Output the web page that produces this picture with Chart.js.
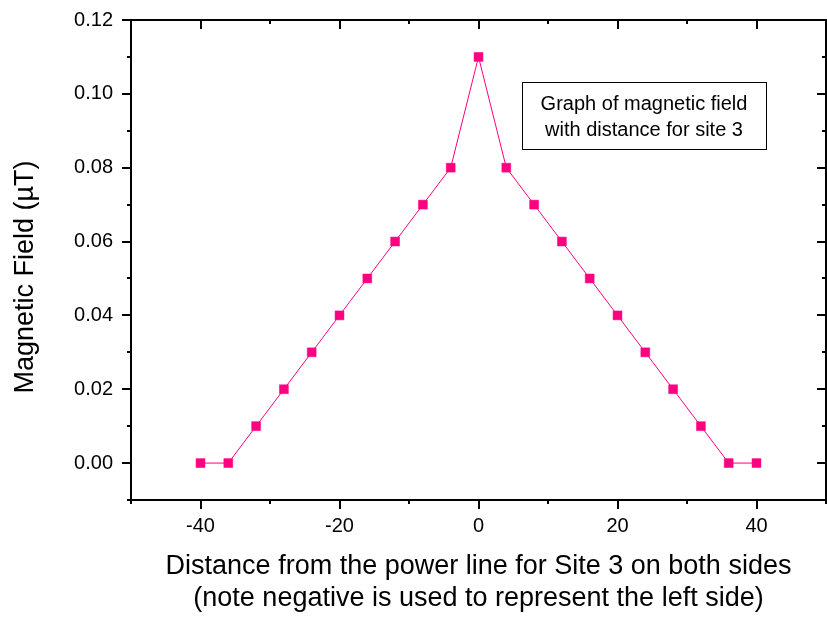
<!DOCTYPE html>
<html>
<head>
<meta charset="utf-8">
<script src="https://cdn.jsdelivr.net/npm/chart.js@4/dist/chart.umd.min.js"></script>
<style>
html,body{margin:0;padding:0;background:#fff;}
canvas{display:block;}
</style>
</head>
<body>
<canvas id="c" width="827" height="617"></canvas>
<script>
const distances = [-40,-36,-32,-28,-24,-20,-16,-12,-8,-4,0,4,8,12,16,20,24,28,32,36,40];
const fieldValues = [0.00,0.00,0.01,0.02,0.03,0.04,0.05,0.06,0.07,0.08,0.11,0.08,0.07,0.06,0.05,0.04,0.03,0.02,0.01,0.00,0.00];
const xTickValues = [-40,-20,0,20,40];
const xMinorTicks = [-50,-30,-10,10,30,50];
const yTickValues = [0.00,0.02,0.04,0.06,0.08,0.10,0.12];
const yMinorTicks = [-0.01,0.01,0.03,0.05,0.07,0.09,0.11];
const xTitleLines = ['Distance from the power line for Site 3 on both sides','(note negative is used to represent the left side)'];
const yTitle = 'Magnetic Field (\u00B5T)';
const noteLines = ['Graph of magnetic field','with distance for site 3'];

const FONT = 'Arial, "Liberation Sans", sans-serif';
const markColor = '#ff0080';

const framePlugin = {
  id: 'frame',
  afterDraw(chart) {
    const {ctx, chartArea: a, scales} = chart;
    const xs = scales.x, ys = scales.y;
    ctx.save();
    ctx.strokeStyle = '#000';
    ctx.lineWidth = 2;
    ctx.strokeRect(a.left, a.top, a.right - a.left, a.bottom - a.top);
    const MAJ = 9, MIN = 4;
    ctx.beginPath();
    yTickValues.forEach(v => {
      const y = Math.round(ys.getPixelForValue(v));
      ctx.moveTo(a.left - MAJ, y); ctx.lineTo(a.left, y);
      ctx.moveTo(a.right, y); ctx.lineTo(a.right - MAJ, y);
    });
    yMinorTicks.forEach(v => {
      const y = Math.round(ys.getPixelForValue(v));
      ctx.moveTo(a.left - MIN, y); ctx.lineTo(a.left, y);
      ctx.moveTo(a.right, y); ctx.lineTo(a.right - MIN, y);
    });
    xTickValues.forEach(v => {
      const x = Math.round(xs.getPixelForValue(v));
      ctx.moveTo(x, a.bottom); ctx.lineTo(x, a.bottom + MAJ);
      ctx.moveTo(x, a.top); ctx.lineTo(x, a.top + MAJ);
    });
    xMinorTicks.forEach(v => {
      const x = Math.round(xs.getPixelForValue(v));
      ctx.moveTo(x, a.bottom); ctx.lineTo(x, a.bottom + MIN);
      ctx.moveTo(x, a.top); ctx.lineTo(x, a.top + MIN);
    });
    ctx.stroke();

    // note box
    const bx = 522, by = 82, bw = 244, bh = 67;
    ctx.fillStyle = '#fff';
    ctx.fillRect(bx, by, bw, bh);
    ctx.lineWidth = 1;
    ctx.strokeRect(bx + 0.5, by + 0.5, bw, bh);
    ctx.fillStyle = '#000';
    ctx.font = '20px ' + FONT;
    ctx.textAlign = 'center';
    ctx.textBaseline = 'middle';
    ctx.fillText(noteLines[0], bx + bw / 2, 104);
    ctx.fillText(noteLines[1], bx + bw / 2, 130);

    // axis titles
    ctx.font = '27px ' + FONT;
    const cx = (a.left + a.right) / 2;
    ctx.fillText(xTitleLines[0], cx, 567);
    ctx.fillText(xTitleLines[1], cx, 599);
    ctx.save();
    ctx.translate(26, 277);
    ctx.rotate(-Math.PI / 2);
    ctx.fillText(yTitle, 0, 0);
    ctx.restore();
    ctx.restore();
  }
};

new Chart(document.getElementById('c'), {
  type: 'scatter',
  data: {
    datasets: [{
      data: distances.map((d, i) => ({x: d, y: fieldValues[i]})),
      showLine: true,
      borderColor: markColor,
      borderWidth: 1,
      backgroundColor: markColor,
      pointStyle: 'rect',
      pointRadius: 6.3,
      pointBorderWidth: 0.5,
      pointBorderColor: markColor,
      tension: 0
    }]
  },
  options: {
    responsive: false,
    animation: false,
    devicePixelRatio: 1,
    layout: {autoPadding: false, padding: {top: 20, right: 1, left: 0, bottom: 0}},
    plugins: {legend: {display: false}, tooltip: {enabled: false}, title: {display: false}},
    scales: {
      x: {
        type: 'linear', min: -50, max: 50,
        afterBuildTicks: s => { s.ticks = xTickValues.map(v => ({value: v})); },
        afterFit: s => { s.height = 117; s.paddingLeft = 0; s.paddingRight = 0; },
        grid: {display: false, drawTicks: true, tickLength: 14},
        border: {display: false},
        ticks: {color: '#000', font: {family: FONT, size: 20}, padding: 0, maxRotation: 0,
                callback: v => String(v)}
      },
      y: {
        type: 'linear', min: -0.01, max: 0.12,
        afterBuildTicks: s => { s.ticks = yTickValues.map(v => ({value: v})); },
        afterFit: s => { s.width = 131; s.paddingTop = 0; s.paddingBottom = 0; },
        grid: {display: false, drawTicks: true, tickLength: 18},
        border: {display: false},
        ticks: {color: '#000', font: {family: FONT, size: 20}, padding: 0,
                callback: v => Number(v).toFixed(2)}
      }
    }
  },
  plugins: [framePlugin]
});
</script>
</body>
</html>
